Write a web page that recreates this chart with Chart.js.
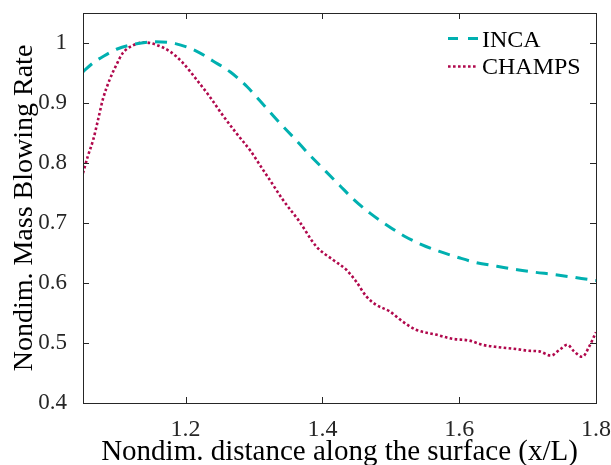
<!DOCTYPE html>
<html>
<head>
<meta charset="utf-8">
<script src="https://cdn.jsdelivr.net/npm/chart.js@4.4.1/dist/chart.umd.min.js"></script>
<style>
    html, body { margin: 0; padding: 0; background: #fff; }
    #wrap { width: 611px; height: 465px; }
</style>
</head>
<body>
<div id="wrap"><canvas id="chart-line"></canvas></div>
<script>
// INCA (dashed)
var xInca = [1.05, 1.065, 1.08, 1.10, 1.125, 1.155, 1.185, 1.215, 1.24, 1.265, 1.29, 1.31, 1.335, 1.36, 1.38,
    1.405, 1.425, 1.445, 1.47, 1.495, 1.52, 1.545, 1.57, 1.60, 1.625, 1.655, 1.685, 1.71, 1.74, 1.77, 1.80];
var yInca = [0.952, 0.967, 0.978, 0.990, 0.998, 1.002, 0.999, 0.987, 0.970, 0.952, 0.927, 0.902, 0.870, 0.840, 0.815,
    0.786, 0.763, 0.740, 0.716, 0.696, 0.678, 0.664, 0.653, 0.642, 0.634, 0.628, 0.622, 0.618, 0.614, 0.609, 0.604];

// CHAMPS (dotted)
var xChamps = [1.05, 1.057, 1.065, 1.072, 1.079, 1.089, 1.099, 1.108, 1.123, 1.14, 1.157, 1.177, 1.196, 1.216, 1.235,
    1.254, 1.274, 1.295, 1.313, 1.323, 1.342, 1.366, 1.391, 1.415, 1.435, 1.449, 1.464, 1.478, 1.498, 1.517, 1.537,
    1.566, 1.59, 1.615, 1.634, 1.658, 1.683, 1.702, 1.717, 1.734, 1.748, 1.758, 1.768, 1.78, 1.79, 1.80];
var yChamps = [0.783, 0.811, 0.839, 0.872, 0.906, 0.939, 0.964, 0.983, 0.996, 1.001, 0.997, 0.986, 0.967, 0.939, 0.911,
    0.880, 0.850, 0.820, 0.789, 0.772, 0.739, 0.703, 0.661, 0.639, 0.622, 0.603, 0.578, 0.564, 0.553, 0.536, 0.522,
    0.514, 0.507, 0.504, 0.497, 0.493, 0.490, 0.487, 0.486, 0.479, 0.490, 0.497, 0.486, 0.477, 0.494, 0.518];

var xTicks = [1.2, 1.4, 1.6, 1.8];
var yTicks = [0.4, 0.5, 0.6, 0.7, 0.8, 0.9, 1.0];
var seriesNames = ['INCA', 'CHAMPS'];

var tealColor = '#00b0b0';
var crimsonColor = '#b0084c';
var incaDash = [12, 8];
var champsDash = [2.6, 2.4];

function toPoints(xs, ys) {
    var pts = [];
    for (var i = 0; i < xs.length; i++) {
        pts.push({ x: xs[i], y: ys[i] });
    }
    return pts;
}

// frame + inward ticks (matlab style)
var framePlugin = {
    id: 'frame',
    afterDatasetsDraw: function (chart) {
        var ctx = chart.ctx;
        var a = chart.chartArea;
        var xs = chart.scales.x;
        var ys = chart.scales.y;
        var tl = 6;
        ctx.save();
        ctx.strokeStyle = '#262626';
        ctx.lineWidth = 1;
        ctx.setLineDash([]);
        ctx.strokeRect(Math.round(a.left) + 0.5, Math.round(a.top) + 0.5,
            Math.round(a.right - a.left), Math.round(a.bottom - a.top));
        ctx.beginPath();
        xTicks.forEach(function (v) {
            var px = Math.round(xs.getPixelForValue(v)) + 0.5;
            ctx.moveTo(px, a.bottom); ctx.lineTo(px, a.bottom - tl);
            ctx.moveTo(px, a.top); ctx.lineTo(px, a.top + tl);
        });
        yTicks.forEach(function (v) {
            var py = Math.round(ys.getPixelForValue(v)) + 0.5;
            ctx.moveTo(a.left, py); ctx.lineTo(a.left + tl, py);
            ctx.moveTo(a.right, py); ctx.lineTo(a.right - tl, py);
        });
        ctx.stroke();
        ctx.restore();
    }
};

// legend in the upper right corner
var legendPlugin = {
    id: 'cornerLegend',
    afterDraw: function (chart) {
        var ctx = chart.ctx;
        var rows = [
            { name: seriesNames[0], color: tealColor, dash: [10, 10], width: 3, y: 38.5, base: 46.5 },
            { name: seriesNames[1], color: crimsonColor, dash: champsDash, width: 2.6, y: 66.5, base: 73.5 }
        ];
        ctx.save();
        rows.forEach(function (r) {
            ctx.beginPath();
            ctx.strokeStyle = r.color;
            ctx.lineWidth = r.width;
            ctx.setLineDash(r.dash);
            ctx.moveTo(448, r.y);
            ctx.lineTo(478, r.y);
            ctx.stroke();
            ctx.setLineDash([]);
            ctx.fillStyle = '#000';
            ctx.font = '24px "Liberation Serif"';
            ctx.textAlign = 'left';
            ctx.textBaseline = 'alphabetic';
            ctx.fillText(r.name, 482, r.base);
        });
        ctx.restore();
    }
};

var line_config = {
    type: 'line',
    data: {
        datasets: [
            {
                label: seriesNames[0],
                data: toPoints(xInca, yInca),
                borderColor: tealColor,
                borderWidth: 3,
                borderDash: incaDash,
                pointRadius: 0,
                cubicInterpolationMode: 'monotone',
                fill: false
            },
            {
                label: seriesNames[1],
                data: toPoints(xChamps, yChamps),
                borderColor: crimsonColor,
                borderWidth: 2.6,
                borderDash: champsDash,
                pointRadius: 0,
                cubicInterpolationMode: 'monotone',
                fill: false
            }
        ]
    },
    options: {
        responsive: true,
        maintainAspectRatio: false,
        animation: false,
        layout: { padding: { top: 13, right: 15, left: 0, bottom: 0 } },
        plugins: {
            legend: { display: false },
            tooltip: { enabled: false }
        },
        scales: {
            x: {
                type: 'linear',
                min: 1.05,
                max: 1.8,
                grid: { display: false },
                border: { display: false },
                afterBuildTicks: function (scale) {
                    scale.ticks = xTicks.map(function (v) { return { value: v }; });
                },
                afterFit: function (scale) {
                    scale.height = 62;
                    scale.paddingLeft = 0;
                    scale.paddingRight = 0;
                },
                ticks: {
                    padding: 4,
                    maxRotation: 0,
                    color: '#262626',
                    font: { family: 'Liberation Serif', size: 24 },
                    callback: function (v) { return (+v.toFixed(1)).toString(); }
                },
                title: {
                    display: true,
                    text: 'Nondim. distance along the surface (x/L)',
                    color: '#000',
                    padding: { top: 0, bottom: -2 },
                    font: { family: 'Liberation Serif', size: 29, lineHeight: 1 }
                }
            },
            y: {
                type: 'linear',
                min: 0.4,
                max: 1.05,
                grid: { display: false },
                border: { display: false },
                afterBuildTicks: function (scale) {
                    scale.ticks = yTicks.map(function (v) { return { value: v }; });
                },
                afterFit: function (scale) {
                    scale.width = 83;
                    scale.paddingTop = 0;
                    scale.paddingBottom = 0;
                },
                ticks: {
                    padding: 8,
                    color: '#262626',
                    font: { family: 'Liberation Serif', size: 23 },
                    callback: function (v) { return (+v.toFixed(1)).toString(); }
                },
                title: {
                    display: true,
                    text: 'Nondim. Mass Blowing Rate',
                    color: '#000',
                    padding: { top: 11, bottom: 0 },
                    font: { family: 'Liberation Serif', size: 28, lineHeight: 1 }
                }
            }
        }
    },
    plugins: [framePlugin, legendPlugin]
};

var lineChart = document.getElementById('chart-line').getContext('2d');
window.myLine = new Chart(lineChart, line_config);
</script>
</body>
</html>
